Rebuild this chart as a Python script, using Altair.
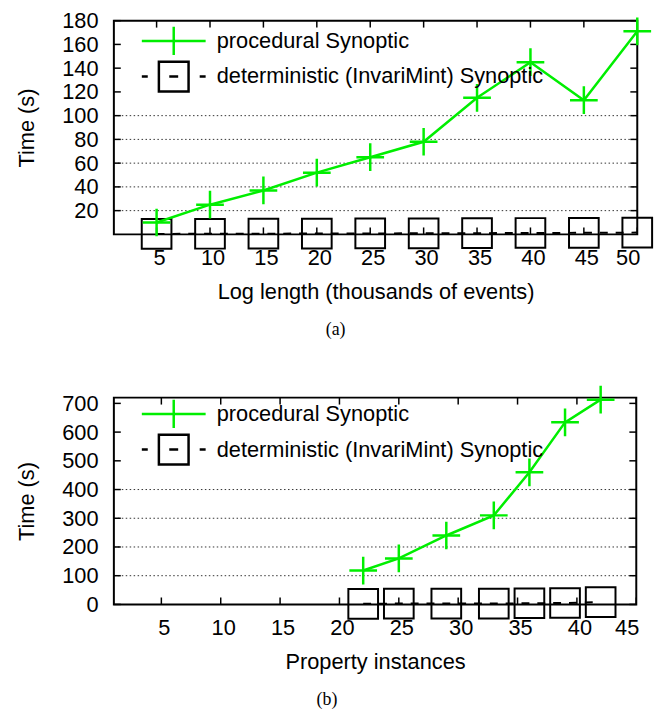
import altair as alt
import pandas as pd

# ---- data ----
series_names = ["procedural Synoptic", "deterministic (InvariMint) Synoptic"]

a_x = [5, 10, 15, 20, 25, 30, 35, 40, 45, 50]
a_proc = [10, 25, 37, 52, 65, 78, 115, 145, 113, 171]
a_det = [0.4, 0.5, 0.6, 0.7, 0.8, 0.9, 1.0, 1.2, 1.3, 1.5]
a_xticks = [5, 10, 15, 20, 25, 30, 35, 40, 45, 50]
a_yticks = [20, 40, 60, 80, 100, 120, 140, 160, 180]
a_grid = [20, 40, 60, 80, 100]

b_x = [22, 25, 29, 33, 36, 39, 42]
b_proc = [118, 160, 240, 310, 460, 634, 713]
b_det = [2, 3, 3, 3, 4, 5, 8]
b_xticks = [5, 10, 15, 20, 25, 30, 35, 40, 45]
b_yticks = [0, 100, 200, 300, 400, 500, 600, 700]
b_grid = [100, 200, 300, 400]

GREEN = "#00ee00"
FONT = "Liberation Sans"
FS = 22
CROSS = "M-1,0H1M0,-1V1"
LEG_CROSS = "M-2.15,0H2.15M0,-0.95V0.95"
LEG_SQUARE = "M-2.15,0H-1.75M-1,-1H1V1H-1ZM-0.3,0H0.3M1.75,0H2.15"


def panel(xs, proc, det, xdom, ydom, xticks, yticks, grid_vals, xtitle, caption, W, H, leg_y):
    d_proc = pd.DataFrame({"x": xs, "y": proc, "series": series_names[0]})
    d_det = pd.DataFrame({"x": xs, "y": det, "series": series_names[1]})
    d_all = pd.concat([d_proc, d_det])
    d_xt = pd.DataFrame({"x": xticks})
    d_yt = pd.DataFrame({"y": yticks})
    d_grid = pd.DataFrame({"y": grid_vals})

    X = alt.X("x:Q", scale=alt.Scale(domain=xdom, nice=False, zero=False),
              axis=alt.Axis(values=xticks, title=xtitle, labelOffset=2.5))
    Y = alt.Y("y:Q", scale=alt.Scale(domain=ydom, nice=False, zero=False),
              axis=alt.Axis(values=yticks, title="Time (s)"))

    grid = alt.Chart(d_grid).mark_rule(color="#333", strokeWidth=1, strokeDash=[1.5, 2.5]).encode(
        y=Y, x=alt.value(0), x2=alt.value(W))
    ytl = alt.Chart(d_yt).mark_rule(color="black", strokeWidth=1.5).encode(
        y=Y, x=alt.value(0), x2=alt.value(7))
    ytr = alt.Chart(d_yt).mark_rule(color="black", strokeWidth=1.5).encode(
        y=Y, x=alt.value(W - 7), x2=alt.value(W))
    xtb = alt.Chart(d_xt).mark_rule(color="black", strokeWidth=1.5).encode(
        x=X, y=alt.value(H - 7), y2=alt.value(H))
    xtt = alt.Chart(d_xt).mark_rule(color="black", strokeWidth=1.5).encode(
        x=X, y=alt.value(0), y2=alt.value(7))

    det_line = alt.Chart(d_det).mark_line(color="black", strokeWidth=2, strokeDash=[8, 8]).encode(x=X, y=Y)
    det_pts = alt.Chart(d_det).mark_point(shape="square", size=900, filled=False, color="black",
                                          strokeWidth=2, opacity=1).encode(x=X, y=Y)
    proc_line = alt.Chart(d_proc).mark_line(color=GREEN, strokeWidth=2.5).encode(x=X, y=Y)
    proc_pts = alt.Chart(d_proc).mark_point(shape=CROSS, size=784, filled=False, color=GREEN,
                                            strokeWidth=2.5, opacity=1).encode(x=X, y=Y)

    leg = alt.Legend(orient="none", legendX=44, legendY=leg_y, title=None, padding=0,
                     symbolSize=900, symbolStrokeWidth=2.5, labelFont=FONT, labelFontSize=FS,
                     labelColor="black", labelOffset=27, rowPadding=-15, labelLimit=1000)
    legend_layer = alt.Chart(d_all).transform_filter("datum.y < -100000").mark_point(
        filled=False, size=900, strokeWidth=2.5, opacity=1).encode(
        x=X, y=Y,
        color=alt.Color("series:N", scale=alt.Scale(domain=series_names, range=[GREEN, "black"]), legend=leg),
        shape=alt.Shape("series:N", scale=alt.Scale(domain=series_names, range=[LEG_CROSS, LEG_SQUARE]), legend=leg),
    )

    return alt.layer(grid, ytl, ytr, xtb, xtt, det_line, det_pts, proc_line, proc_pts, legend_layer).properties(
        width=W, height=H,
        title=alt.TitleParams(caption, orient="bottom", font="Liberation Serif", fontSize=18,
                              fontWeight="normal", color="black", offset=19, anchor="middle", frame="bounds"),
    )


top = panel(a_x, a_proc, a_det, [1, 50], [0, 180], a_xticks, a_yticks, a_grid,
            "Log length (thousands of events)", "(a)", 529, 216, 4)
bottom = panel(b_x, b_proc, b_det, [1, 45], [0, 720], b_xticks, b_yticks, b_grid,
               "Property instances", "(b)", 528, 209, 0)

chart = alt.vconcat(top, bottom, spacing=165, bounds="flush").resolve_scale(
    color="independent", shape="independent"
).resolve_legend(color="independent", shape="independent").properties(
    padding={"left": 6, "top": -3, "right": 5, "bottom": 5}
).configure_view(stroke="black", strokeWidth=2).configure_axis(
    labelFont=FONT, labelFontSize=FS, labelColor="black", titleFont=FONT, titleFontSize=FS,
    titleFontWeight="normal", titleColor="black", ticks=False, tickSize=0, domain=False, grid=False,
).configure_axisX(labelPadding=13, titlePadding=14).configure_axisY(labelPadding=16, titlePadding=24)

chart.save("out.html", embed_options={"renderer": "svg", "actions": False})
